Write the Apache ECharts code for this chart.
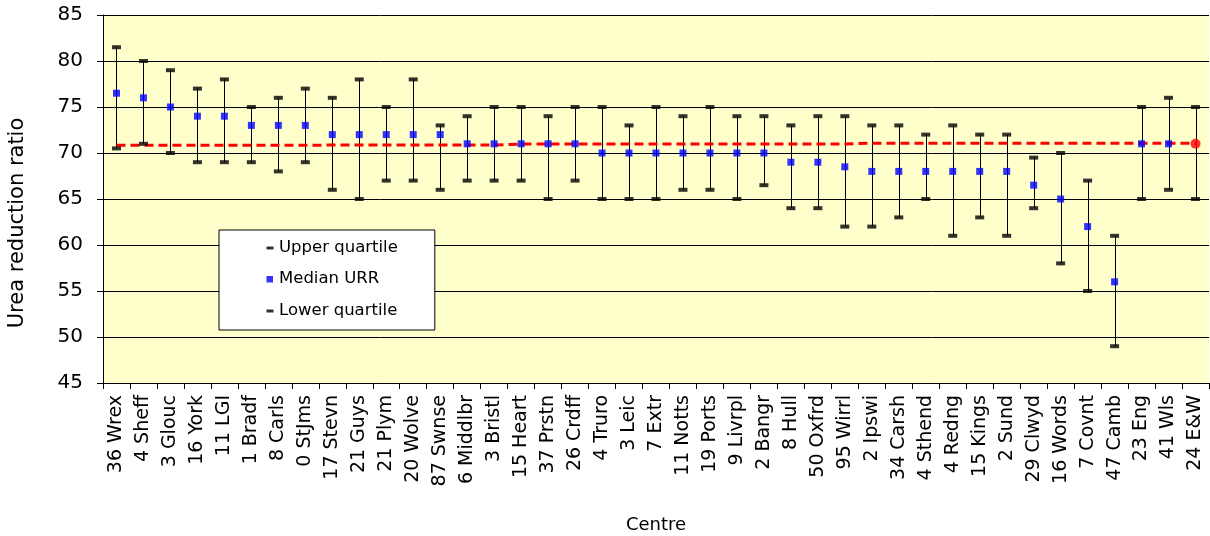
<!DOCTYPE html>
<html>
<head>
<meta charset="utf-8">
<script src="https://cdn.jsdelivr.net/npm/echarts@6/dist/echarts.min.js"></script>
<style>
  html, body { margin: 0; padding: 0; background: #ffffff; }
  #chart { width: 1210px; height: 536px; }
</style>
</head>
<body>
<div id="chart"></div>
<script>
// Renal centres, ordered by median urea reduction ratio
const centres = [
  '36 Wrex', '4 Sheff', '3 Glouc', '16 York', '11 LGI', '1 Bradf', '8 Carls', '0 StJms',
  '17 Stevn', '21 Guys', '21 Plym', '20 Wolve', '87 Swnse', '6 Middlbr', '3 Bristl',
  '15 Heart', '37 Prstn', '26 Crdff', '4 Truro', '3 Leic', '7 Extr', '11 Notts', '19 Ports',
  '9 Livrpl', '2 Bangr', '8 Hull', '50 Oxfrd', '95 Wirrl', '2 Ipswi', '34 Carsh', '4 Sthend',
  '4 Redng', '15 Kings', '2 Sund', '29 Clwyd', '16 Words', '7 Covnt', '47 Camb', '23 Eng',
  '41 Wls', '24 E&W'
];

const upperQuartile = [
  81.5, 80, 79, 77, 78, 75, 76, 77, 76, 78, 75, 78, 73, 74, 75, 75, 74, 75, 75, 73,
  75, 74, 75, 74, 74, 73, 74, 74, 73, 73, 72, 73, 72, 72, 69.5, 70, 67, 61, 75, 76, 75
];

const medianURR = [
  76.5, 76, 75, 74, 74, 73, 73, 73, 72, 72, 72, 72, 72, 71, 71, 71, 71, 71, 70, 70,
  70, 70, 70, 70, 70, 69, 69, 68.5, 68, 68, 68, 68, 68, 68, 66.5, 65, 62, 56, 71, 71, 71
];

const lowerQuartile = [
  70.5, 71, 70, 69, 69, 69, 68, 69, 66, 65, 67, 67, 66, 67, 67, 67, 65, 67, 65, 65,
  65, 66, 66, 65, 66.5, 64, 64, 62, 62, 63, 65, 61, 63, 61, 64, 58, 55, 49, 65, 66, 65
];

// England & Wales median reference line
const ewLine = [
  70.83, 70.83, 70.83, 70.83, 70.83, 70.83, 70.83, 70.83, 70.87, 70.87, 70.87, 70.87,
  70.87, 70.87, 70.87, 70.97, 70.97, 70.97, 70.97, 70.97, 70.97, 70.97, 70.97, 70.97,
  70.97, 70.97, 70.97, 70.97, 71.07, 71.07, 71.07, 71.07, 71.07, 71.07, 71.07, 71.07,
  71.07, 71.07, 71.07, 71.07, 71.07
];

const yTicks = { min: 45, max: 85, step: 5 };

const FONT = '"DejaVu Sans", Verdana, sans-serif';

const medianData = medianURR.map((v, i) =>
  i === centres.length - 1
    ? { value: v, symbol: 'circle', symbolSize: 10, itemStyle: { color: '#ff0000' } }
    : v
);

const rangeData = centres.map((c, i) => [i, lowerQuartile[i], upperQuartile[i]]);

const chart = echarts.init(document.getElementById('chart'), null, { renderer: 'canvas' });

chart.setOption({
  animation: false,
  backgroundColor: '#ffffff',
  textStyle: { fontFamily: FONT },
  grid: {
    left: 103, right: 1, top: 15, bottom: 153,
    outerBoundsMode: 'none',
    containLabel: false,
    show: true, backgroundColor: '#ffffcc', borderWidth: 0
  },
  legend: {
    orient: 'vertical',
    left: 219, top: 230,
    backgroundColor: '#ffffff',
    borderColor: '#000000', borderWidth: 1,
    padding: [9, 37, 11, 46],
    itemGap: 14.5,
    itemWidth: 9, itemHeight: 9,
    textStyle: { fontFamily: FONT, fontSize: 16.5, color: '#000000' },
    data: [
      { name: 'Upper quartile', icon: 'path://M0,0L0.01,0L0,0.01Z M0,9L0.01,9L0,8.99Z M1,3.5H8V6.5H1Z' },
      { name: 'Median URR', icon: 'path://M1.5,1.5H8V8H1.5Z M0,0L0.01,0L0,0.01Z M9,9L8.99,9L9,8.99Z' },
      { name: 'Lower quartile', icon: 'path://M0,0L0.01,0L0,0.01Z M0,9L0.01,9L0,8.99Z M1,3.5H8V6.5H1Z' }
    ]
  },
  xAxis: {
    type: 'category',
    data: centres,
    boundaryGap: true,
    name: 'Centre',
    nameLocation: 'middle',
    nameGap: 133,
    nameTextStyle: { fontFamily: FONT, fontSize: 18, color: '#000000' },
    axisLine: { lineStyle: { color: '#000000', width: 1 } },
    axisTick: { show: true, interval: 0, length: 6, lineStyle: { color: '#000000' } },
    axisLabel: {
      interval: 0, rotate: 90, margin: 12,
      fontFamily: FONT, fontSize: 19, color: '#000000'
    },
    splitLine: { show: false }
  },
  yAxis: {
    type: 'value',
    min: yTicks.min, max: yTicks.max, interval: yTicks.step,
    name: 'Urea reduction ratio',
    nameLocation: 'middle',
    nameGap: 75,
    nameTextStyle: {
      fontFamily: FONT, fontSize: 21, color: '#000000',
      padding: [0, 48, 0, 0]
    },
    axisLine: { show: true, lineStyle: { color: '#000000', width: 1 } },
    axisTick: { show: true, length: 6, lineStyle: { color: '#000000' } },
    axisLabel: { margin: 20, fontFamily: FONT, fontSize: 20, color: '#000000' },
    splitLine: { show: true, lineStyle: { color: '#000000', width: 1 } }
  },
  series: [
    {
      // vertical whiskers between lower and upper quartile
      type: 'custom',
      name: 'range',
      silent: true,
      z: 2,
      data: rangeData,
      renderItem: function (params, api) {
        const x = api.value(0);
        const lo = api.coord([x, api.value(1)]);
        const hi = api.coord([x, api.value(2)]);
        return {
          type: 'line',
          shape: { x1: Math.round(lo[0]) + 0.5, y1: lo[1], x2: Math.round(hi[0]) + 0.5, y2: hi[1] },
          style: { stroke: '#000000', lineWidth: 1 }
        };
      }
    },
    {
      type: 'line',
      name: 'E&W',
      data: ewLine,
      symbol: 'none',
      z: 3,
      lineStyle: { color: '#ff0000', width: 3, type: [9, 5] }
    },
    {
      type: 'scatter',
      name: 'Upper quartile',
      data: upperQuartile,
      symbol: 'rect',
      symbolSize: [9, 4],
      z: 4,
      itemStyle: { color: '#000000' }
    },
    {
      type: 'scatter',
      name: 'Lower quartile',
      data: lowerQuartile,
      symbol: 'rect',
      symbolSize: [9, 4],
      z: 4,
      itemStyle: { color: '#000000' }
    },
    {
      type: 'scatter',
      name: 'Median URR',
      data: medianData,
      symbol: 'rect',
      symbolSize: 7,
      z: 5,
      itemStyle: { color: '#0000ff' }
    }
  ]
});
</script>
</body>
</html>
